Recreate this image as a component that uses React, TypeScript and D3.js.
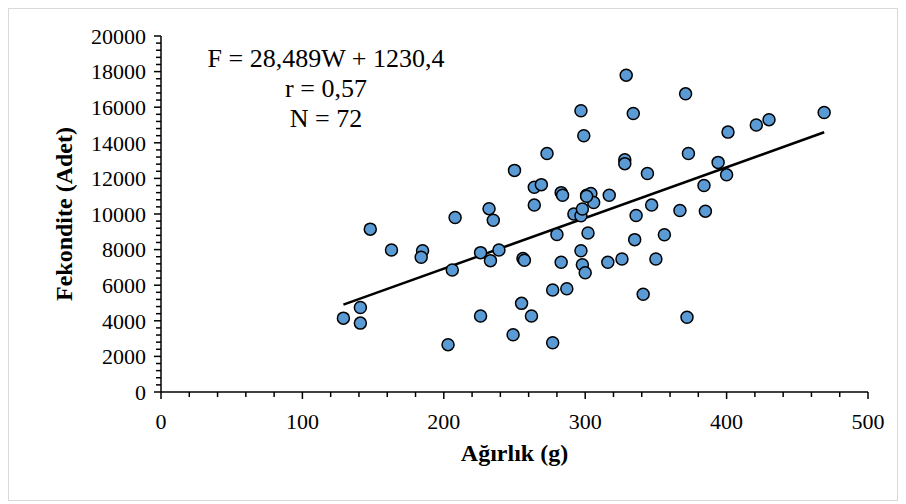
import { useEffect, useRef } from "react";
import * as d3 from "d3";

// weight (g) and fecundity (count)
const weights = [
  129, 141, 141, 148, 163, 185, 184, 206, 208, 203, 226, 226, 232, 233, 235, 239,
  250, 249, 255, 256, 257, 262, 264, 269, 264, 273, 277, 277, 280, 283, 284, 283,
  287, 292, 297, 298, 297, 299, 297, 298, 300, 301, 304, 302, 306, 316, 317, 326,
  328, 328, 329, 334, 335, 336, 341, 344, 347, 350, 356, 367, 371, 372, 373, 384,
  385, 394, 400, 401, 421, 430, 469, 301,
];
const fecundity = [
  4150, 4750, 3870, 9150, 7980, 7940, 7570, 6850, 9800, 2660, 7830, 4270, 10300, 7380, 9650, 7980,
  12450, 3220, 4980, 7500, 7400, 4270, 11500, 11650, 10500, 13400, 5730, 2770, 8850, 11200, 11050, 7290,
  5800, 10000, 9900, 10280, 15800, 14400, 7940, 7150, 6700, 11050, 11150, 8930, 10650, 7290, 11050, 7470,
  13050, 12830, 17800, 15650, 8560, 9920, 5490, 12280, 10500, 7470, 8830, 10200, 16750, 4200, 13400, 11600,
  10160, 12900, 12200, 14600, 15000, 15300, 15700, 11000,
];

const slope = 28.489;
const intercept = 1230.4;
const equationLines = ["F = 28,489W + 1230,4", "r = 0,57", "N = 72"];

const xTicks = [0, 100, 200, 300, 400, 500];
const yTicks = [0, 2000, 4000, 6000, 8000, 10000, 12000, 14000, 16000, 18000, 20000];

const App = () => {
  const svgRef = useRef<SVGSVGElement | null>(null);

  const width = 906;
  const height = 504;
  const font = "'Liberation Serif', 'Times New Roman', serif";

  useEffect(() => {
    if (!svgRef.current) return;
    const svg = d3.select(svgRef.current);
    svg.selectAll("*").remove();

    // chart border
    svg.append("rect")
      .attr("x", 8.5)
      .attr("y", 8.5)
      .attr("width", 889)
      .attr("height", 492)
      .attr("fill", "#fff")
      .attr("stroke", "#d9d9d9")
      .attr("stroke-width", 1);

    const x = d3.scaleLinear().domain([0, 500]).range([161, 868]);
    const y = d3.scaleLinear().domain([0, 20000]).range([392, 36]);

    const axes = svg.append("g").attr("stroke", "#000").attr("stroke-width", 1.5);

    // minor ticks
    d3.range(0, 501, 20).forEach((v) => {
      const major = v % 100 === 0;
      axes.append("line")
        .attr("x1", x(v)).attr("x2", x(v))
        .attr("y1", y(0)).attr("y2", y(0) + (major ? 7 : 5));
    });
    d3.range(0, 20001, 400).forEach((v) => {
      const major = v % 2000 === 0;
      axes.append("line")
        .attr("x1", x(0) - (major ? 7 : 5)).attr("x2", x(0))
        .attr("y1", y(v)).attr("y2", y(v));
    });

    // axis lines
    axes.append("line")
      .attr("x1", x(0)).attr("x2", x(500))
      .attr("y1", y(0)).attr("y2", y(0));
    axes.append("line")
      .attr("x1", x(0)).attr("x2", x(0))
      .attr("y1", y(0)).attr("y2", y(20000));

    // tick labels
    svg.append("g")
      .selectAll("text")
      .data(xTicks)
      .join("text")
      .attr("x", (d) => x(d))
      .attr("y", 429)
      .attr("text-anchor", "middle")
      .attr("font-family", font)
      .attr("font-size", 22)
      .text((d) => d);

    svg.append("g")
      .selectAll("text")
      .data(yTicks)
      .join("text")
      .attr("x", 146)
      .attr("y", (d) => y(d))
      .attr("dy", "0.35em")
      .attr("text-anchor", "end")
      .attr("font-family", font)
      .attr("font-size", 22)
      .text((d) => d);

    // regression line over the weight range
    const [wMin, wMax] = d3.extent(weights) as [number, number];
    svg.append("line")
      .attr("x1", x(wMin))
      .attr("y1", y(slope * wMin + intercept))
      .attr("x2", x(wMax))
      .attr("y2", y(slope * wMax + intercept))
      .attr("stroke", "#000")
      .attr("stroke-width", 2.5);

    // points
    svg.append("g")
      .selectAll("circle")
      .data(weights.map((w, i) => [w, fecundity[i]]))
      .join("circle")
      .attr("cx", (d) => x(d[0]))
      .attr("cy", (d) => y(d[1]))
      .attr("r", 6)
      .attr("fill", "#5b9bd5")
      .attr("stroke", "#000")
      .attr("stroke-width", 1.5);

    // equation block
    svg.append("g")
      .selectAll("text")
      .data(equationLines)
      .join("text")
      .attr("x", 326)
      .attr("y", (d, i) => 67 + i * 30)
      .attr("text-anchor", "middle")
      .attr("font-family", font)
      .attr("font-size", 26)
      .text((d) => d);

    // axis titles
    svg.append("text")
      .attr("x", (x(0) + x(500)) / 2)
      .attr("y", 461)
      .attr("text-anchor", "middle")
      .attr("font-family", font)
      .attr("font-size", 24)
      .attr("font-weight", "bold")
      .text("Ağırlık (g)");

    svg.append("text")
      .attr("transform", `translate(72, ${(y(0) + y(20000)) / 2}) rotate(-90)`)
      .attr("text-anchor", "middle")
      .attr("font-family", font)
      .attr("font-size", 24)
      .attr("font-weight", "bold")
      .text("Fekondite (Adet)");
  }, []);

  return (
    <svg
      ref={svgRef}
      width={width}
      height={height}
      viewBox={`0 0 ${width} ${height}`}
      style={{ position: "absolute", left: 0, top: 0, display: "block" }}
    />
  );
};

export default App;
